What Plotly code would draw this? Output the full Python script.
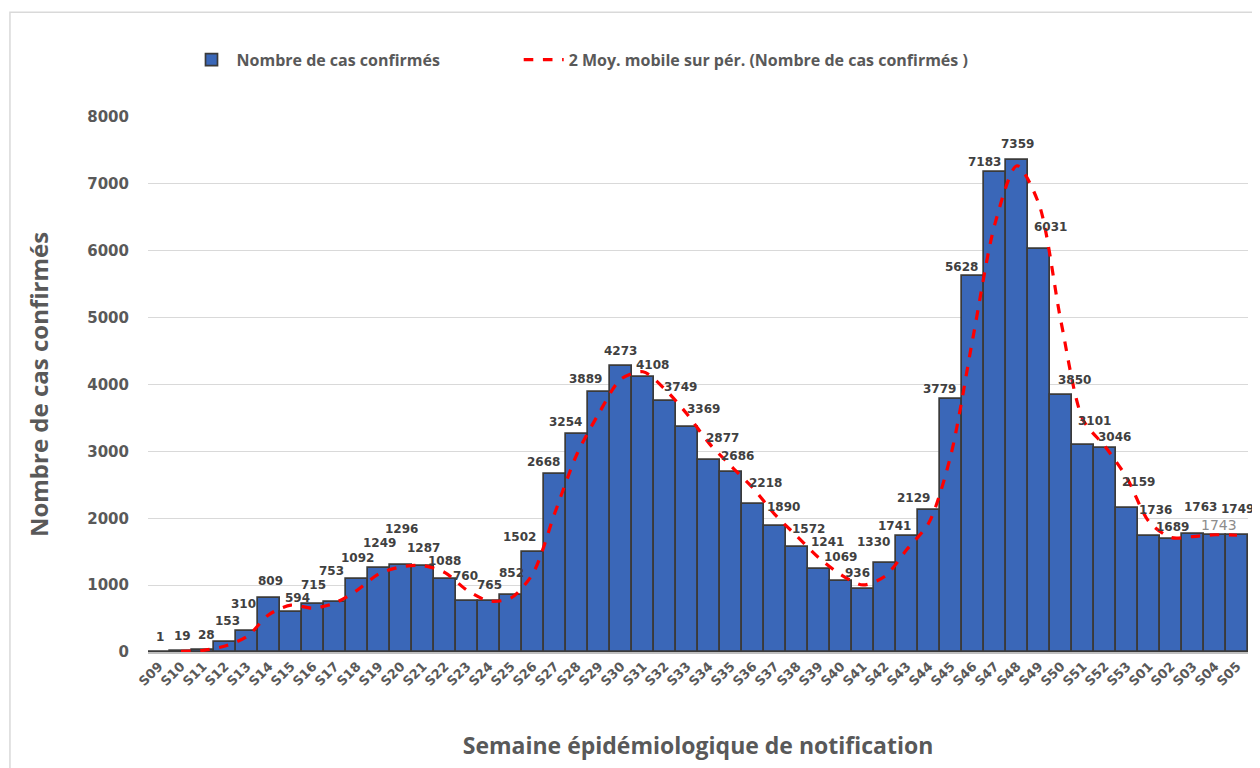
import pandas as pd
import plotly.graph_objects as go

# Semaines épidémiologiques
semaines = ["S%02d" % w for w in range(9, 54)] + ["S01", "S02", "S03", "S04", "S05"]

cas_confirmes = [
    1, 19, 28, 153, 310, 809, 594, 715, 753, 1092,
    1249, 1296, 1287, 1088, 760, 765, 852, 1502, 2668, 3254,
    3889, 4273, 4108, 3749, 3369, 2877, 2686, 2218, 1890, 1572,
    1241, 1069, 936, 1330, 1741, 2129, 3779, 5628, 7183, 7359,
    6031, 3850, 3101, 3046, 2159, 1736, 1689, 1763, 1743, 1749,
]

y_ticks = [0, 1000, 2000, 3000, 4000, 5000, 6000, 7000, 8000]

# décalage des étiquettes (px), déplacées à la main dans l'original
lbl_dx = [1, 1, 3, 2, -4, 1, 6, 0, -4, 0,
          0, 0, 0, -1, -2, 0, 0, -14, -12, -12,
          -14, -1, 9, 15, 16, 13, 6, 12, 8, 11,
          8, -1, -6, -12, -13, -16, -12, -12, -11, 0,
          11, 13, 11, 9, 11, 6, 1, 7, 4, 0]
lbl_dy = [15, 15, 15, 21, 27, 17, 14, 19, 31, 21,
          25, 36, 18, 18, 25, 16, 22, 15, 12, 12,
          13, 15, 12, 14, 18, 22, 16, 21, 19, 18,
          27, 24, 16, 21, 10, 12, 10, 9, 10, 16,
          22, 15, 24, 11, 26, 26, 12, 27, 10, 26]

df = pd.DataFrame({"semaine": semaines, "cas": cas_confirmes})
# moyenne mobile sur 2 périodes (comme la courbe de tendance Excel)
df["moy2"] = df["cas"].rolling(2).mean()

gris = "#595959"

fig = go.Figure()

fig.add_trace(go.Bar(
    x=df["semaine"], y=df["cas"],
    name="Nombre de cas confirmés",
    marker=dict(color="#3a67b8", line=dict(color="#3a3a3a", width=1.7)),
    legend="legend",
))

fig.add_trace(go.Scatter(
    x=df["semaine"], y=df["moy2"],
    name="2 Moy. mobile sur pér. (Nombre de cas confirmés )",
    mode="lines",
    line=dict(color="#ff0000", width=3.2, dash="dash", shape="spline", smoothing=0.8),
    legend="legend2",
))

# étiquettes de données
annotations = []
for i, row in df.iterrows():
    font = dict(family="DejaVu Sans", size=12, color="#404040", weight="bold")
    if row["semaine"] == "S04":
        font = dict(family="DejaVu Sans", size=14, color="#8c8c8c", weight="normal")
    annotations.append(dict(
        x=row["semaine"], y=row["cas"], text=str(row["cas"]),
        showarrow=False, xanchor="center", yanchor="middle",
        xshift=lbl_dx[i], yshift=lbl_dy[i], font=font,
    ))

legend_font = dict(family="Open Sans", size=16, color=gris, weight="bold")

fig.update_layout(
    # la page ajoute 8 px de marge autour du graphique
    width=1252, height=760,
    paper_bgcolor="white", plot_bgcolor="white",
    margin=dict(l=140, r=12, t=109, b=116, autoexpand=False),
    bargap=0,
    font=dict(family="DejaVu Sans", color=gris),
    showlegend=True,
    legend=dict(orientation="h", x=0.035, y=1.107, xanchor="left", yanchor="middle",
                bgcolor="rgba(0,0,0,0)", font=legend_font, itemwidth=40),
    legend2=dict(orientation="h", x=0.337, y=1.107, xanchor="left", yanchor="middle",
                 bgcolor="rgba(0,0,0,0)", font=legend_font, itemwidth=40),
    annotations=annotations,
    shapes=[dict(type="rect", xref="paper", yref="paper",
                 x0=-0.1255, x1=1.2, y0=-0.5, y1=1.196,
                 line=dict(color="#d9d9d9", width=1.5), layer="below")],
)

fig.update_xaxes(
    type="category", tickangle=-45, automargin=False,
    range=[-0.5, len(semaines) - 0.5],
    tickfont=dict(family="DejaVu Sans", size=13, color=gris, weight="bold"),
    showline=True, linecolor="#bfbfbf", linewidth=1.5,
    showgrid=False, ticks="",
    title=dict(text="Semaine épidémiologique de notification", standoff=50,
               font=dict(family="Open Sans", size=23, color=gris, weight="bold")),
)

fig.update_yaxes(
    range=[0, 8000], tickvals=y_ticks, automargin=False,
    tickfont=dict(family="DejaVu Sans", size=15, color=gris, weight="bold"),
    showgrid=True, gridcolor="#d9d9d9", gridwidth=1.2,
    zeroline=False, ticks="", ticklabelstandoff=18,
    title=dict(text="Nombre de cas confirmés", standoff=31,
               font=dict(family="Open Sans", size=24, color=gris, weight="bold")),
)

fig.write_html("out.html")
